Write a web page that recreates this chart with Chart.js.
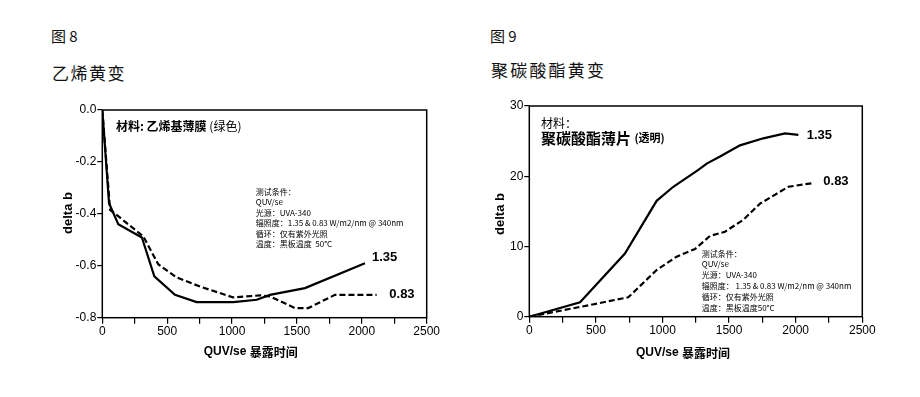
<!DOCTYPE html>
<html lang="zh">
<head>
  <meta charset="UTF-8" />
  <title>黄变</title>
  <script src="https://cdn.jsdelivr.net/npm/chart.js"></script>
  <style>
    body { margin: 0; background: #fff; width: 920px; height: 397px; position: relative; overflow: hidden; font-family: "Noto Sans CJK SC", sans-serif; color: #111; }
    .head { position: absolute; line-height: 20px; white-space: nowrap; }
    .fig { font-size: 15px; }
    .name { font-size: 17px; }
    canvas { position: absolute; top: 0; }
  </style>
</head>
<body>
  <div class="head fig" style="left:51px; top:26px;">图 8</div>
  <div class="head name" style="left:52px; top:63px; letter-spacing:1.5px;">乙烯黄变</div>
  <div class="head fig" style="left:490px; top:26px;">图 9</div>
  <div class="head name" style="left:491px; top:60px; letter-spacing:2.2px;">聚碳酸酯黄变</div>

  <canvas id="vinylChart" width="460" height="397" style="left:0"></canvas>
  <canvas id="pcChart" width="460" height="397" style="left:460px"></canvas>

<script>
  // 图 8 乙烯基薄膜
  const vinylX135 = [0, 52, 123, 305, 401, 560, 727, 1010, 1190, 1292, 1562, 2024];
  const vinylY135 = [0, -0.359, -0.44, -0.491, -0.641, -0.712, -0.74, -0.74, -0.731, -0.712, -0.686, -0.59];
  const vinylX083 = [0, 60, 125, 316, 431, 573, 753, 1010, 1215, 1291, 1485, 1587, 1793, 2114];
  const vinylY083 = [0, -0.385, -0.41, -0.487, -0.594, -0.645, -0.68, -0.722, -0.714, -0.718, -0.763, -0.763, -0.712, -0.712];

  // 图 9 聚碳酸酯薄片
  const pcX135 = [0, 381, 718, 956, 1081, 1269, 1332, 1432, 1582, 1757, 1920, 2020];
  const pcY135 = [0, 2.05, 9.0, 16.5, 18.5, 20.9, 21.8, 22.8, 24.4, 25.4, 26.1, 25.9];
  const pcX083 = [0, 368, 743, 956, 1106, 1244, 1357, 1469, 1607, 1732, 1945, 2120];
  const pcY083 = [0, 1.34, 2.76, 6.65, 8.55, 9.64, 11.5, 12.1, 13.8, 16.1, 18.5, 19.0];

  const xTicks = [0, 500, 1000, 1500, 2000, 2500];
  const vinylYTicks = [0, -0.2, -0.4, -0.6, -0.8];
  const pcYTicks = [0, 10, 20, 30];

  const conditionsVinyl = ['测试条件：', 'QUV/se', '光源：UVA-340', '辐照度：1.35 & 0.83 W/m2/nm @ 340nm', '循环：仅有紫外光照', '温度：黑板温度  50°C'];
  const conditionsPc = ['测试条件：', 'QUV/se', '光源：UVA-340', '辐照度： 1.35 & 0.83 W/m2/nm @ 340nm', '循环：仅有紫外光照', '温度：黑板温度50°C'];

  const SANS = '"Liberation Sans", Arial, "Noto Sans CJK SC", sans-serif';
  const CJK = '"Noto Sans CJK SC", "Liberation Sans", sans-serif';

  const pts = (xs, ys) => xs.map((x, i) => ({ x, y: ys[i] }));

  function line(xs, ys, dashed) {
    return {
      data: pts(xs, ys),
      borderColor: '#000',
      borderWidth: 2.2,
      borderDash: dashed ? [6, 3] : [],
      pointRadius: 0,
      tension: 0,
      fill: false
    };
  }

  // frame round the plot + free text
  const decor = {
    id: 'decor',
    afterDatasetsDraw(chart, args, opts) {
      const { ctx, chartArea: a } = chart;
      ctx.save();
      ctx.strokeStyle = '#000';
      ctx.lineWidth = 1.5;
      ctx.strokeRect(a.left, a.top, a.right - a.left, a.bottom - a.top);
      ctx.fillStyle = '#000';
      ctx.textBaseline = 'middle';
      (opts.notes || []).forEach(n => {
        ctx.save();
        ctx.translate(n.x, n.y);
        if (n.rot) ctx.rotate(-Math.PI / 2);
        let total = 0;
        n.runs.forEach(r => { ctx.font = r[1]; total += ctx.measureText(r[0]).width; });
        let x = n.center ? -total / 2 : 0;
        n.runs.forEach(r => { ctx.font = r[1]; ctx.fillText(r[0], x, 0); x += ctx.measureText(r[0]).width; });
        ctx.restore();
      });
      ctx.restore();
    }
  };

  function xScale() {
    return {
      type: 'linear', min: 0, max: 2500,
      afterFit: s => { s.height = 30; },
      afterBuildTicks: s => { s.ticks = [];
        for (let v = 0; v <= 2500; v += 250) s.ticks.push({ value: v }); },
      ticks: {
        autoSkip: false, maxRotation: 0, padding: 1, color: '#000',
        font: { family: SANS, size: 12 },
        callback: v => xTicks.includes(v) ? String(v) : ''
      },
      grid: { drawOnChartArea: false, tickLength: 6, color: '#000', lineWidth: 1.2 },
      border: { display: false }
    };
  }

  function yScale(min, max, ticks, width, fmt) {
    return {
      min, max,
      afterFit: s => { s.width = width; },
      afterBuildTicks: s => { s.ticks = ticks.map(v => ({ value: v })); },
      ticks: { padding: 1, color: '#000', font: { family: SANS, size: 12 }, callback: fmt },
      grid: { drawOnChartArea: false, tickLength: 5, color: '#000', lineWidth: 1.2 },
      border: { display: false }
    };
  }

  function conditionNotes(lines, x, y0, step) {
    return lines.map((t, i) => ({ x, y: y0 + i * step, runs: [[t, '8px ' + CJK]] }));
  }

  new Chart(document.getElementById('vinylChart'), {
    type: 'line',
    data: { datasets: [line(vinylX135, vinylY135, false), line(vinylX083, vinylY083, true)] },
    options: {
      responsive: false, animation: false, parsing: false,
      layout: { padding: { left: 50, top: 110, right: 33.3, bottom: 49.3 } },
      scales: {
        x: xScale(),
        y: yScale(-0.8, 0, vinylYTicks, 52.3, v => v.toFixed(1))
      },
      plugins: {
        legend: { display: false }, tooltip: { enabled: false },
        decor: {
          notes: [
            { x: 116, y: 126, runs: [['材料: ', 'bold 12px ' + CJK], ['乙烯基薄膜 ', 'bold 12px ' + CJK], ['(绿色)', '12px ' + CJK]] },
            { x: 372, y: 257.3, runs: [['1.35', 'bold 13px ' + SANS]] },
            { x: 389.3, y: 294.3, runs: [['0.83', 'bold 13px ' + SANS]] },
            { x: 250.7, y: 352, center: true, runs: [['QUV/se ', 'bold 12px ' + SANS], ['暴露时间', 'bold 12px ' + CJK]] },
            { x: 68, y: 213, center: true, rot: true, runs: [['delta b', 'bold 13px ' + SANS]] },
            ...conditionNotes(conditionsVinyl, 255.7, 191.7, 10.5)
          ]
        }
      }
    },
    plugins: [decor]
  });

  new Chart(document.getElementById('pcChart'), {
    type: 'line',
    data: { datasets: [line(pcX135, pcY135, false), line(pcX083, pcY083, true)] },
    options: {
      responsive: false, animation: false, parsing: false,
      layout: { padding: { left: 22, top: 106, right: 57.7, bottom: 50.3 } },
      scales: {
        x: xScale(),
        y: yScale(0, 30, pcYTicks, 47.3, v => String(v))
      },
      plugins: {
        legend: { display: false }, tooltip: { enabled: false },
        decor: {
          notes: [
            { x: 81, y: 123.3, runs: [['材料：', '12px ' + CJK]] },
            { x: 81, y: 138.3, runs: [['聚碳酸酯薄片 ', 'bold 15px ' + CJK], ['(透明)', 'bold 11px ' + CJK]] },
            { x: 346.7, y: 135.7, runs: [['1.35', 'bold 13px ' + SANS]] },
            { x: 363.3, y: 181.7, runs: [['0.83', 'bold 13px ' + SANS]] },
            { x: 223, y: 353, center: true, runs: [['QUV/se ', 'bold 12px ' + SANS], ['暴露时间', 'bold 12px ' + CJK]] },
            { x: 40.7, y: 214, center: true, rot: true, runs: [['delta b', 'bold 13px ' + SANS]] },
            ...conditionNotes(conditionsPc, 241.7, 253.5, 10.8)
          ]
        }
      }
    },
    plugins: [decor]
  });
</script>
</body>
</html>
